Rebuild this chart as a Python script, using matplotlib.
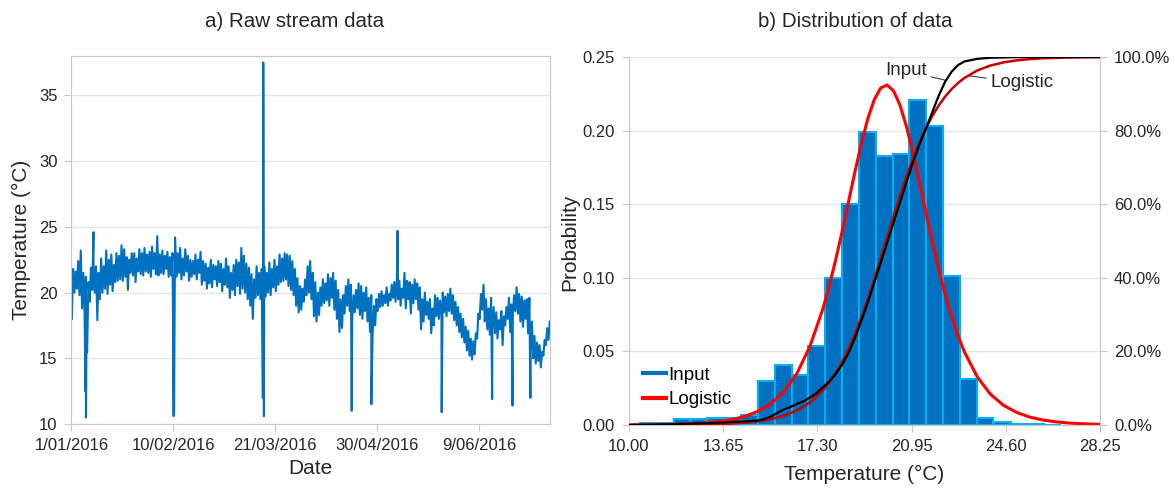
import numpy as np
import pandas as pd
import matplotlib
matplotlib.use("Agg")
import matplotlib.pyplot as plt
import matplotlib.dates as mdates
from matplotlib.lines import Line2D
from matplotlib.ticker import FuncFormatter, MultipleLocator

plt.rcParams['font.family'] = ['Liberation Sans', 'DejaVu Sans']

# ---- a) raw stream data: daily low / high in degC, from 1 Jan 2016
day_low = [18.0, 20.0, 20.3, 19.8, 18.8, 18.5, 15.5, 19.3, 20.2, 20.0,
           17.9, 19.5, 20.0, 20.3, 19.9, 20.6, 20.1, 20.8, 20.9, 21.0,
           20.9, 21.2, 20.2, 21.5, 21.3, 20.8, 21.6, 21.4, 21.3, 21.6,
           21.5, 21.2, 21.8, 21.4, 21.3, 21.5, 21.4, 21.8, 21.2, 21.3,
           21.0, 21.2, 21.5, 21.0, 21.3, 21.6, 20.9, 21.2, 21.4, 21.0,
           21.5, 20.6, 20.9, 20.3, 20.7, 20.4, 21.0, 20.5, 20.8, 20.1,
           20.6, 20.4, 19.6, 20.2, 19.8, 20.5, 19.9, 20.3, 20.0, 19.5,
           19.0, 18.0, 19.6, 19.8, 19.5, 20.0, 19.7, 20.0, 19.8, 20.4,
           20.1, 20.6, 20.8, 20.9, 21.0, 20.5, 20.2, 19.8, 19.0, 18.5,
           18.7, 19.3, 19.8, 20.0, 19.5, 18.2, 17.8, 18.3, 19.0, 19.2,
           19.4, 19.0, 19.6, 18.7, 18.0, 17.0, 17.3, 18.4, 19.0, 18.6,
           18.0, 18.5, 18.8, 18.3, 18.0, 18.6, 17.8, 17.0, 16.8, 17.5,
           18.6, 18.9, 19.0, 19.2, 19.0, 19.4, 19.6, 19.3, 19.5, 19.0,
           19.6, 18.8, 19.5, 18.4, 19.2, 19.5, 18.7, 17.2, 17.8, 18.3,
           18.0, 16.9, 17.5, 18.2, 18.0, 18.3, 18.5, 18.2, 18.6, 18.4,
           17.9, 17.5, 17.0, 16.6, 16.2, 15.6, 15.2, 14.9, 15.3, 16.5,
           18.0, 18.7, 17.8, 17.2, 16.8, 17.4, 16.9, 16.5, 17.2, 16.0,
           17.5, 18.0, 17.0, 18.2, 18.6, 18.4, 17.8, 17.4, 18.0, 16.9,
           15.5, 15.0, 14.6, 14.8, 14.3, 15.2, 16.0, 16.4]
day_high = [21.8, 21.6, 22.4, 23.2, 21.5, 21.2, 20.8, 21.9, 22.3, 22.0,
            21.5, 22.6, 22.0, 23.2, 22.5, 22.9, 22.1, 23.0, 22.8, 23.6,
            23.3, 22.7, 22.5, 23.0, 23.0, 22.6, 23.3, 23.0, 23.4, 22.9,
            23.1, 23.5, 23.0, 24.3, 22.9, 23.2, 22.8, 23.1, 22.7, 23.0,
            24.2, 23.0, 23.4, 22.6, 23.3, 22.8, 22.5, 22.4, 22.9, 22.5,
            23.1, 22.4, 22.2, 21.9, 22.5, 22.1, 22.0, 22.4, 22.2, 21.8,
            22.6, 22.0, 21.5, 22.1, 22.5, 22.3, 23.4, 22.8, 22.2, 21.9,
            21.4, 21.0, 22.0, 21.5, 21.8, 22.0, 21.5, 22.3, 21.8, 22.5,
            22.0, 22.9, 22.6, 23.0, 22.9, 22.8, 22.4, 21.8, 21.1, 20.5,
            20.3, 21.0, 22.0, 22.4, 21.5, 20.8, 20.0, 20.4, 21.0, 20.7,
            21.4, 21.1, 21.5, 20.9, 20.2, 19.5, 19.8, 20.5, 21.0, 20.6,
            19.8, 20.2, 20.7, 20.5, 20.0, 20.4, 19.6, 19.8, 19.0, 19.5,
            19.9, 20.1, 19.8, 20.4, 19.9, 20.6, 20.8, 21.0, 20.9, 20.3,
            21.5, 20.9, 20.8, 20.6, 21.0, 20.7, 20.4, 19.5, 20.0, 19.3,
            19.5, 18.8, 19.8, 19.6, 19.4, 20.0, 19.7, 19.9, 20.3, 19.8,
            19.3, 18.9, 18.4, 18.0, 17.4, 17.1, 16.5, 16.3, 16.9, 18.4,
            19.9, 20.6, 19.5, 18.8, 19.6, 18.9, 18.5, 17.9, 18.6, 18.2,
            18.9, 19.6, 19.1, 19.8, 20.4, 19.9, 19.7, 19.4, 19.5, 19.6,
            17.8, 16.7, 16.2, 16.0, 15.5, 16.4, 17.3, 17.8]
# short spikes / dips (days since 1 Jan 2016, degC)
spike_day = [5.55, 5.75, 5.9, 8.7, 40.15, 40.3, 75.15, 75.3, 75.4, 75.55,
             110.0, 117.7, 128.0, 145.3, 165.1, 173.1, 180.1]
spike_temp = [12.5, 10.5, 15.3, 24.6, 10.6, 10.8, 12.0, 37.5, 30.3, 10.6,
              11.0, 11.5, 24.7, 10.9, 11.9, 11.4, 12.0]

# ---- b) distribution: histogram (left edge degC, probability density)
bin_left = [10.43, 11.08, 11.73, 12.39, 13.04, 13.69, 14.34, 14.99, 15.65,
            16.30, 16.95, 17.60, 18.25, 18.91, 19.56, 20.21, 20.86, 21.52,
            22.17, 22.82, 23.47, 24.13, 24.78, 25.43, 26.08]
bin_prob = [0.0016, 0.0016, 0.004, 0.004, 0.0047, 0.0047, 0.0065, 0.030,
            0.041, 0.034, 0.054, 0.100, 0.150, 0.199, 0.183, 0.184, 0.221,
            0.203, 0.101, 0.031, 0.0045, 0.002, 0.0007, 0.0005, 0.0003]
bin_width = 0.652

# logistic fit
fit_temp = [10.0, 10.5, 11.0, 11.5, 12.0, 12.5, 13.0, 13.5, 14.0, 14.5,
            15.0, 15.5, 16.0, 16.5, 17.0, 17.5, 17.75, 18.0, 18.25, 18.5,
            18.75, 19.0, 19.25, 19.5, 19.75, 20.0, 20.25, 20.5, 20.75, 21.0,
            21.25, 21.5, 21.75, 22.0, 22.25, 22.5, 22.75, 23.0, 23.5, 24.0,
            24.5, 25.0, 25.5, 26.0, 26.5, 27.0, 27.5, 28.0, 28.25]
fit_pdf = [0.0001, 0.00015, 0.00023, 0.00037, 0.00059, 0.00094, 0.0015,
           0.0024, 0.0037, 0.0059, 0.0093, 0.0145, 0.0226, 0.0348, 0.0529,
           0.0782, 0.0939, 0.1116, 0.1308, 0.1512, 0.1716, 0.1910, 0.2079,
           0.2209, 0.2289, 0.2310, 0.2270, 0.2173, 0.2028, 0.1850, 0.1651,
           0.1446, 0.1246, 0.1058, 0.0887, 0.0736, 0.0606, 0.0495, 0.0325,
           0.0210, 0.0135, 0.0087, 0.0055, 0.0035, 0.0022, 0.0014, 0.0009,
           0.00055, 0.00043]
fit_cdf = [0.01, 0.016, 0.025, 0.04, 0.064, 0.10, 0.16, 0.25, 0.40, 0.64,
           1.01, 1.60, 2.51, 3.92, 6.09, 9.33, 11.48, 14.05, 17.07, 20.60,
           24.64, 29.17, 34.16, 39.53, 45.17, 50.92, 56.66, 62.22, 67.48,
           72.33, 76.71, 80.58, 83.94, 86.82, 89.25, 91.27, 92.95, 94.32,
           96.35, 97.67, 98.52, 99.06, 99.41, 99.63, 99.76, 99.85, 99.91,
           99.94, 99.95]
# empirical cdf of the input (%)
input_temp = [10.0, 11.0, 12.0, 13.0, 14.0, 14.5, 15.0, 15.25, 15.5, 15.75,
              16.0, 16.25, 16.5, 16.75, 17.0, 17.25, 17.5, 17.75, 18.0,
              18.25, 18.5, 18.75, 19.0, 19.25, 19.5, 19.75, 20.0, 20.25,
              20.5, 20.75, 21.0, 21.25, 21.5, 21.75, 22.0, 22.25, 22.5,
              22.75, 23.0, 23.5, 24.0, 25.0, 26.0, 28.25]
input_cdf = [0.0, 0.1, 0.3, 0.5, 0.8, 1.0, 1.2, 1.6, 2.3, 3.3, 4.2, 4.9, 5.7,
             6.4, 7.4, 8.6, 10.2, 11.8, 13.8, 16.3, 19.5, 23.5, 28.3, 33.2,
             38.6, 44.0, 49.5, 55.0, 60.5, 66.0, 71.3, 76.2, 80.5, 85.0,
             89.5, 93.3, 96.0, 97.8, 98.8, 99.5, 99.8, 99.95, 100.0, 100.0]

blue = '#0070C0'
grid_c = '#E6E6E6'
spine_c = '#C8C8C8'
txt = '#262626'

fig = plt.figure(figsize=(11.75, 4.88), dpi=100)
ax1 = fig.add_axes([0.0607, 0.1311, 0.4074, 0.7541])
ax = fig.add_axes([0.5353, 0.1291, 0.4009, 0.7541])
ax2 = ax.twinx()

# ---- panel a
n = len(day_low)
t = np.concatenate([np.arange(n) + 0.2, np.arange(n) + 0.7, spike_day])
v = np.concatenate([day_low, day_high, spike_temp])
order = np.argsort(t)
start = pd.Timestamp('2016-01-01')
dates = start + pd.to_timedelta(t[order], unit='D')
ax1.plot(dates, v[order], color=blue, lw=1.5)
ax1.set_ylim(10, 38)
ax1.set_xlim(start, start + pd.Timedelta(days=187.8))
ax1.set_yticks([10, 15, 20, 25, 30, 35])
ax1.set_xticks(pd.date_range(start, periods=5, freq='40D'))
ax1.xaxis.set_major_formatter(FuncFormatter(
    lambda x, p: f"{mdates.num2date(x).day}/{mdates.num2date(x):%m/%Y}"))
ax1.grid(axis='y', color=grid_c, lw=1)
ax1.set_axisbelow(True)

# ---- panel b
ax.bar(bin_left, bin_prob, width=bin_width, align='edge', color=blue,
       edgecolor='#00B0F0', linewidth=1.5, zorder=2)
ax.plot(fit_temp, fit_pdf, color='#FF0000', lw=2.2, zorder=3)
ax.set_xlim(10, 28.25)
ax.set_ylim(0, 0.25)
ax.set_xticks([10.00, 13.65, 17.30, 20.95, 24.60, 28.25])
ax.xaxis.set_major_formatter(FuncFormatter(lambda x, p: f"{x:.2f}"))
ax.yaxis.set_major_locator(MultipleLocator(0.05))
ax.yaxis.set_major_formatter(FuncFormatter(lambda x, p: f"{x:.2f}"))
ax.grid(axis='y', color=grid_c, lw=1)
ax.set_axisbelow(True)

ax2.plot(fit_temp, fit_cdf, color='#C80000', lw=1.8, zorder=3)
ax2.plot(input_temp, input_cdf, color='black', lw=1.6, zorder=4)
ax2.set_ylim(0, 100)
ax2.set_yticks([0, 20, 40, 60, 80, 100])
ax2.yaxis.set_major_formatter(FuncFormatter(lambda x, p: f"{x:.1f}%"))

ax2.annotate("Input", xy=(22.25, 93.7), xytext=(21.55, 96.2), ha='right',
             va='center', fontsize=13.5, color=txt,
             arrowprops=dict(arrowstyle='-', color='#404040', lw=0.8,
                             shrinkA=1, shrinkB=0))
ax2.annotate("Logistic", xy=(23.15, 94.9), xytext=(24.0, 93.0), ha='left',
             va='center', fontsize=13.5, color=txt,
             arrowprops=dict(arrowstyle='-', color='#404040', lw=0.8,
                             shrinkA=1, shrinkB=0))

handles = [Line2D([], [], color=blue, lw=3), Line2D([], [], color='#FF0000', lw=3)]
ax.legend(handles, ["Input", "Logistic"], loc='lower left',
          bbox_to_anchor=(0.03, 0.045), frameon=False, fontsize=13.5,
          handlelength=1.2, handletextpad=0.15, borderaxespad=0, borderpad=0,
          labelspacing=0.4)

# ---- styling
for a in (ax1, ax, ax2):
    for s in a.spines.values():
        s.set_color(spine_c)
    a.tick_params(colors=spine_c, labelcolor=txt, labelsize=12, length=5,
                  pad=5)
ax.spines['top'].set_visible(False)
ax2.spines['top'].set_visible(False)

fig.text(0.251, 0.956, "a) Raw stream data", ha='center', va='center',
         fontsize=14.8, color=txt)
fig.text(0.728, 0.956, "b) Distribution of data", ha='center', va='center',
         fontsize=14.8, color=txt)
fig.text(0.0185, 0.508, "Temperature (°C)", rotation=90, ha='center',
         va='center', fontsize=15, color=txt)
fig.text(0.2644, 0.039, "Date", ha='center', va='center', fontsize=15,
         color=txt)
fig.text(0.485, 0.504, "Probability", rotation=90, ha='center', va='center',
         fontsize=15, color=txt)
fig.text(0.735, 0.027, "Temperature (°C)", ha='center', va='center',
         fontsize=15, color=txt)

fig.savefig("out.png", dpi=100)
